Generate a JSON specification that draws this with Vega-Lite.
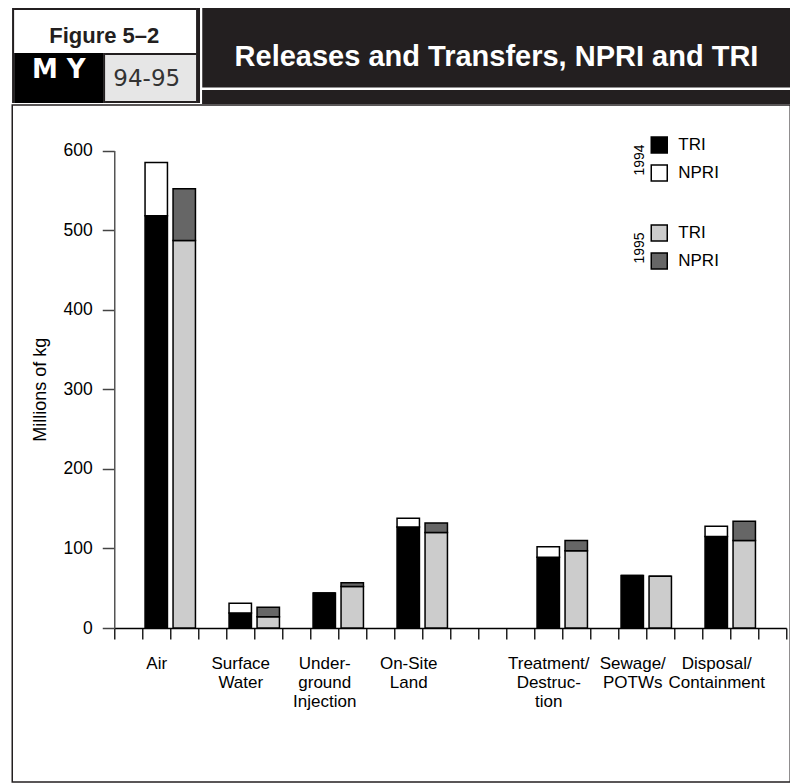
{
  "$schema": "https://vega.github.io/schema/vega-lite/v6.json",
  "background": "white",
  "padding": {"left": 11.25, "top": 8, "right": 0, "bottom": 2},
  "config": {"view": {"stroke": null}, "font": "Liberation Sans"},
  "spacing": 0,
  "vconcat": [
    {
      "spacing": 0,
      "hconcat": [
        {"width": 2, "height": 95, "view": {"fill": "#231f20"}, "data": {"values": [{}]}, "mark": {"type": "rect", "color": "#231f20"}, "encoding": {}},
        {
          "spacing": 0,
          "vconcat": [
            {"width": 182, "height": 2, "view": {"fill": "#231f20"}, "data": {"values": [{}]}, "mark": {"type": "rect", "color": "#231f20"}, "encoding": {}},
            {
              "width": 182, "height": 43,
              "view": {"fill": "white"},
              "data": {"values": [{}]},
              "mark": {"type": "text", "text": "Figure 5–2", "font": "Liberation Sans", "fontSize": 22, "fontWeight": "bold", "color": "#231f20", "baseline": "alphabetic", "dx": -1, "dy": 11},
              "encoding": {}
            },
            {
              "spacing": 0,
              "hconcat": [
                {
                  "width": 89, "height": 50,
                  "view": {"fill": "#000000"},
                  "data": {"values": [{}]},
                  "mark": {"type": "text", "text": "M Y", "font": "DejaVu Sans", "fontSize": 26, "fontWeight": "bold", "color": "white", "baseline": "alphabetic", "dy": 0},
                  "encoding": {}
                },
                {"width": 2, "height": 50, "view": {"fill": "#231f20"}, "data": {"values": [{}]}, "mark": {"type": "rect", "color": "#231f20"}, "encoding": {}},
                {
                  "spacing": 0,
                  "vconcat": [
                    {"width": 91, "height": 2, "view": {"fill": "#231f20"}, "data": {"values": [{}]}, "mark": {"type": "rect", "color": "#231f20"}, "encoding": {}},
                    {
                      "width": 91, "height": 46,
                      "view": {"fill": "#e6e6e6"},
                      "data": {"values": [{}]},
                      "mark": {"type": "text", "text": "94-95", "font": "DejaVu Sans", "fontSize": 23, "color": "#333333", "baseline": "alphabetic", "dx": -4, "dy": 8},
                      "encoding": {}
                    },
                    {"width": 91, "height": 2, "view": {"fill": "#231f20"}, "data": {"values": [{}]}, "mark": {"type": "rect", "color": "#231f20"}, "encoding": {}}
                  ]
                }
              ]
            }
          ]
        },
        {"width": 4, "height": 95, "view": {"fill": "#231f20"}, "data": {"values": [{}]}, "mark": {"type": "rect", "color": "#231f20"}, "encoding": {}},
        {"width": 1.5, "height": 95, "view": {"fill": "white"}, "data": {"values": [{}]}, "mark": {"type": "rect", "color": "white"}, "encoding": {}},
        {
          "spacing": 0,
          "vconcat": [
            {
              "width": 588.5, "height": 79.5,
              "view": {"fill": "#231f20"},
              "data": {"values": [{}]},
              "mark": {"type": "text", "text": "Releases and Transfers, NPRI and TRI", "font": "Liberation Sans", "fontSize": 29, "fontWeight": "bold", "color": "white", "baseline": "alphabetic", "dy": 18},
              "encoding": {}
            },
            {"width": 588.5, "height": 1.5, "view": {"fill": "white"}, "data": {"values": [{}]}, "mark": {"type": "rect", "color": "white"}, "encoding": {}},
            {"width": 588.5, "height": 14, "view": {"fill": "#231f20"}, "data": {"values": [{}]}, "mark": {"type": "rect", "color": "#231f20"}, "encoding": {}}
          ]
        }
      ]
    },
    {
      "width": 778, "height": 677,
      "view": {"fill": "white", "stroke": "#231f20", "strokeWidth": 1.5},
      "data": {"values": [
        {"category": "Air", "year": 1994, "source": "TRI", "value": 518},
        {"category": "Air", "year": 1994, "source": "NPRI", "value": 67},
        {"category": "Air", "year": 1995, "source": "TRI", "value": 487},
        {"category": "Air", "year": 1995, "source": "NPRI", "value": 65},
        {"category": "Surface Water", "year": 1994, "source": "TRI", "value": 19},
        {"category": "Surface Water", "year": 1994, "source": "NPRI", "value": 12},
        {"category": "Surface Water", "year": 1995, "source": "TRI", "value": 14},
        {"category": "Surface Water", "year": 1995, "source": "NPRI", "value": 12},
        {"category": "Underground Injection", "year": 1994, "source": "TRI", "value": 44},
        {"category": "Underground Injection", "year": 1994, "source": "NPRI", "value": 0},
        {"category": "Underground Injection", "year": 1995, "source": "TRI", "value": 52},
        {"category": "Underground Injection", "year": 1995, "source": "NPRI", "value": 5},
        {"category": "On-Site Land", "year": 1994, "source": "TRI", "value": 127},
        {"category": "On-Site Land", "year": 1994, "source": "NPRI", "value": 11},
        {"category": "On-Site Land", "year": 1995, "source": "TRI", "value": 120},
        {"category": "On-Site Land", "year": 1995, "source": "NPRI", "value": 12},
        {"category": "Treatment/Destruction", "year": 1994, "source": "TRI", "value": 89},
        {"category": "Treatment/Destruction", "year": 1994, "source": "NPRI", "value": 13},
        {"category": "Treatment/Destruction", "year": 1995, "source": "TRI", "value": 97},
        {"category": "Treatment/Destruction", "year": 1995, "source": "NPRI", "value": 13},
        {"category": "Sewage/POTWs", "year": 1994, "source": "TRI", "value": 66},
        {"category": "Sewage/POTWs", "year": 1994, "source": "NPRI", "value": 0},
        {"category": "Sewage/POTWs", "year": 1995, "source": "TRI", "value": 65},
        {"category": "Sewage/POTWs", "year": 1995, "source": "NPRI", "value": 0},
        {"category": "Disposal/Containment", "year": 1994, "source": "TRI", "value": 115},
        {"category": "Disposal/Containment", "year": 1994, "source": "NPRI", "value": 13},
        {"category": "Disposal/Containment", "year": 1995, "source": "TRI", "value": 110},
        {"category": "Disposal/Containment", "year": 1995, "source": "NPRI", "value": 24}
      ]},
      "transform": [{"calculate": "datum.category + '|' + datum.year", "as": "slot"}],
      "encoding": {
        "x": {
          "field": "slot", "type": "nominal",
          "scale": {
            "domain": ["g0", "Air|1994", "Air|1995", "g1", "Surface Water|1994", "Surface Water|1995", "g2", "Underground Injection|1994", "Underground Injection|1995", "g3", "On-Site Land|1994", "On-Site Land|1995", "g4", "g5", "g6", "Treatment/Destruction|1994", "Treatment/Destruction|1995", "g7", "Sewage/POTWs|1994", "Sewage/POTWs|1995", "g8", "Disposal/Containment|1994", "Disposal/Containment|1995", "g9"],
            "range": [102, 774], "paddingInner": 0, "paddingOuter": 0
          },
          "axis": {
            "title": null, "orient": "bottom", "offset": -154, "tickBand": "extent",
            "tickSize": 11, "tickColor": "#222222", "tickWidth": 1.5,
            "domainColor": "#000000", "domainWidth": 1.5,
            "labelAngle": 0, "labelFont": "Liberation Sans", "labelFontSize": 17, "labelColor": "#000000",
            "labelLineHeight": 19, "labelBaseline": "top", "labelPadding": 16,
            "labelOverlap": false, "labelBound": false, "labelFlush": false, "labelLimit": 0,
            "labelExpr": "datum.value == 'Air|1994' ? 'Air' : datum.value == 'Surface Water|1994' ? ['Surface','Water'] : datum.value == 'Underground Injection|1994' ? ['Under-','ground','Injection'] : datum.value == 'On-Site Land|1994' ? ['On-Site','Land'] : datum.value == 'Treatment/Destruction|1994' ? ['Treatment/','Destruc-','tion'] : datum.value == 'Sewage/POTWs|1994' ? ['Sewage/','POTWs'] : datum.value == 'Disposal/Containment|1994' ? ['Disposal/','Containment'] : ''"
          }
        },
        "y": {
          "field": "value", "type": "quantitative", "stack": "zero",
          "scale": {"domain": [0, 600], "range": [523, 45.5], "nice": false},
          "axis": {
            "title": "Millions of kg", "offset": -102, "values": [0, 100, 200, 300, 400, 500, 600],
            "tickSize": 12, "tickColor": "#444444", "tickWidth": 1.5,
            "domainColor": "#555555", "domainWidth": 1.5, "grid": false,
            "labelFont": "Liberation Sans", "labelFontSize": 17.5, "labelColor": "#000000", "labelPadding": 10,
            "titleFont": "Liberation Sans", "titleFontSize": 18, "titleFontWeight": "normal", "titleColor": "#000000", "titlePadding": 14
          }
        },
        "order": {"field": "source", "sort": "descending"}
      },
      "layer": [
        {
          "transform": [{"filter": "datum.year == 1994"}],
          "mark": {"type": "bar", "width": {"band": 0.8}, "stroke": "#000000", "strokeWidth": 1.5},
          "encoding": {
            "fill": {
              "field": "source", "type": "nominal",
              "scale": {"domain": ["TRI", "NPRI"], "range": ["#000000", "#ffffff"]},
              "legend": {
                "title": "1994", "orient": "none", "legendX": 621, "legendY": 31, "padding": 0,
                "titleOrient": "left", "titleAnchor": "middle", "titleAlign": "center", "titleBaseline": "top",
                "titleFont": "Liberation Sans", "titleFontSize": 14, "titleFontWeight": "normal", "titleColor": "#000000", "titlePadding": 2,
                "symbolType": "square", "symbolSize": 256, "symbolStrokeColor": "#000000", "symbolStrokeWidth": 1.5, "symbolOpacity": 1,
                "labelFont": "Liberation Sans", "labelFontSize": 17, "labelColor": "#000000", "labelOffset": 10, "rowPadding": 6,
                "encode": {"title": {"update": {"angle": {"value": -90}}}}
              }
            }
          }
        },
        {
          "transform": [{"filter": "datum.year == 1995"}],
          "mark": {"type": "bar", "width": {"band": 0.8}, "stroke": "#000000", "strokeWidth": 1.5},
          "encoding": {
            "fill": {
              "field": "source", "type": "nominal",
              "scale": {"domain": ["TRI", "NPRI"], "range": ["#cccccc", "#666666"]},
              "legend": {
                "title": "1995", "orient": "none", "legendX": 621, "legendY": 119, "padding": 0,
                "titleOrient": "left", "titleAnchor": "middle", "titleAlign": "center", "titleBaseline": "top",
                "titleFont": "Liberation Sans", "titleFontSize": 14, "titleFontWeight": "normal", "titleColor": "#000000", "titlePadding": 2,
                "symbolType": "square", "symbolSize": 256, "symbolStrokeColor": "#000000", "symbolStrokeWidth": 1.5, "symbolOpacity": 1,
                "labelFont": "Liberation Sans", "labelFontSize": 17, "labelColor": "#000000", "labelOffset": 10, "rowPadding": 6,
                "encode": {"title": {"update": {"angle": {"value": -90}}}}
              }
            }
          }
        }
      ],
      "resolve": {"scale": {"fill": "independent"}}
    }
  ]
}
